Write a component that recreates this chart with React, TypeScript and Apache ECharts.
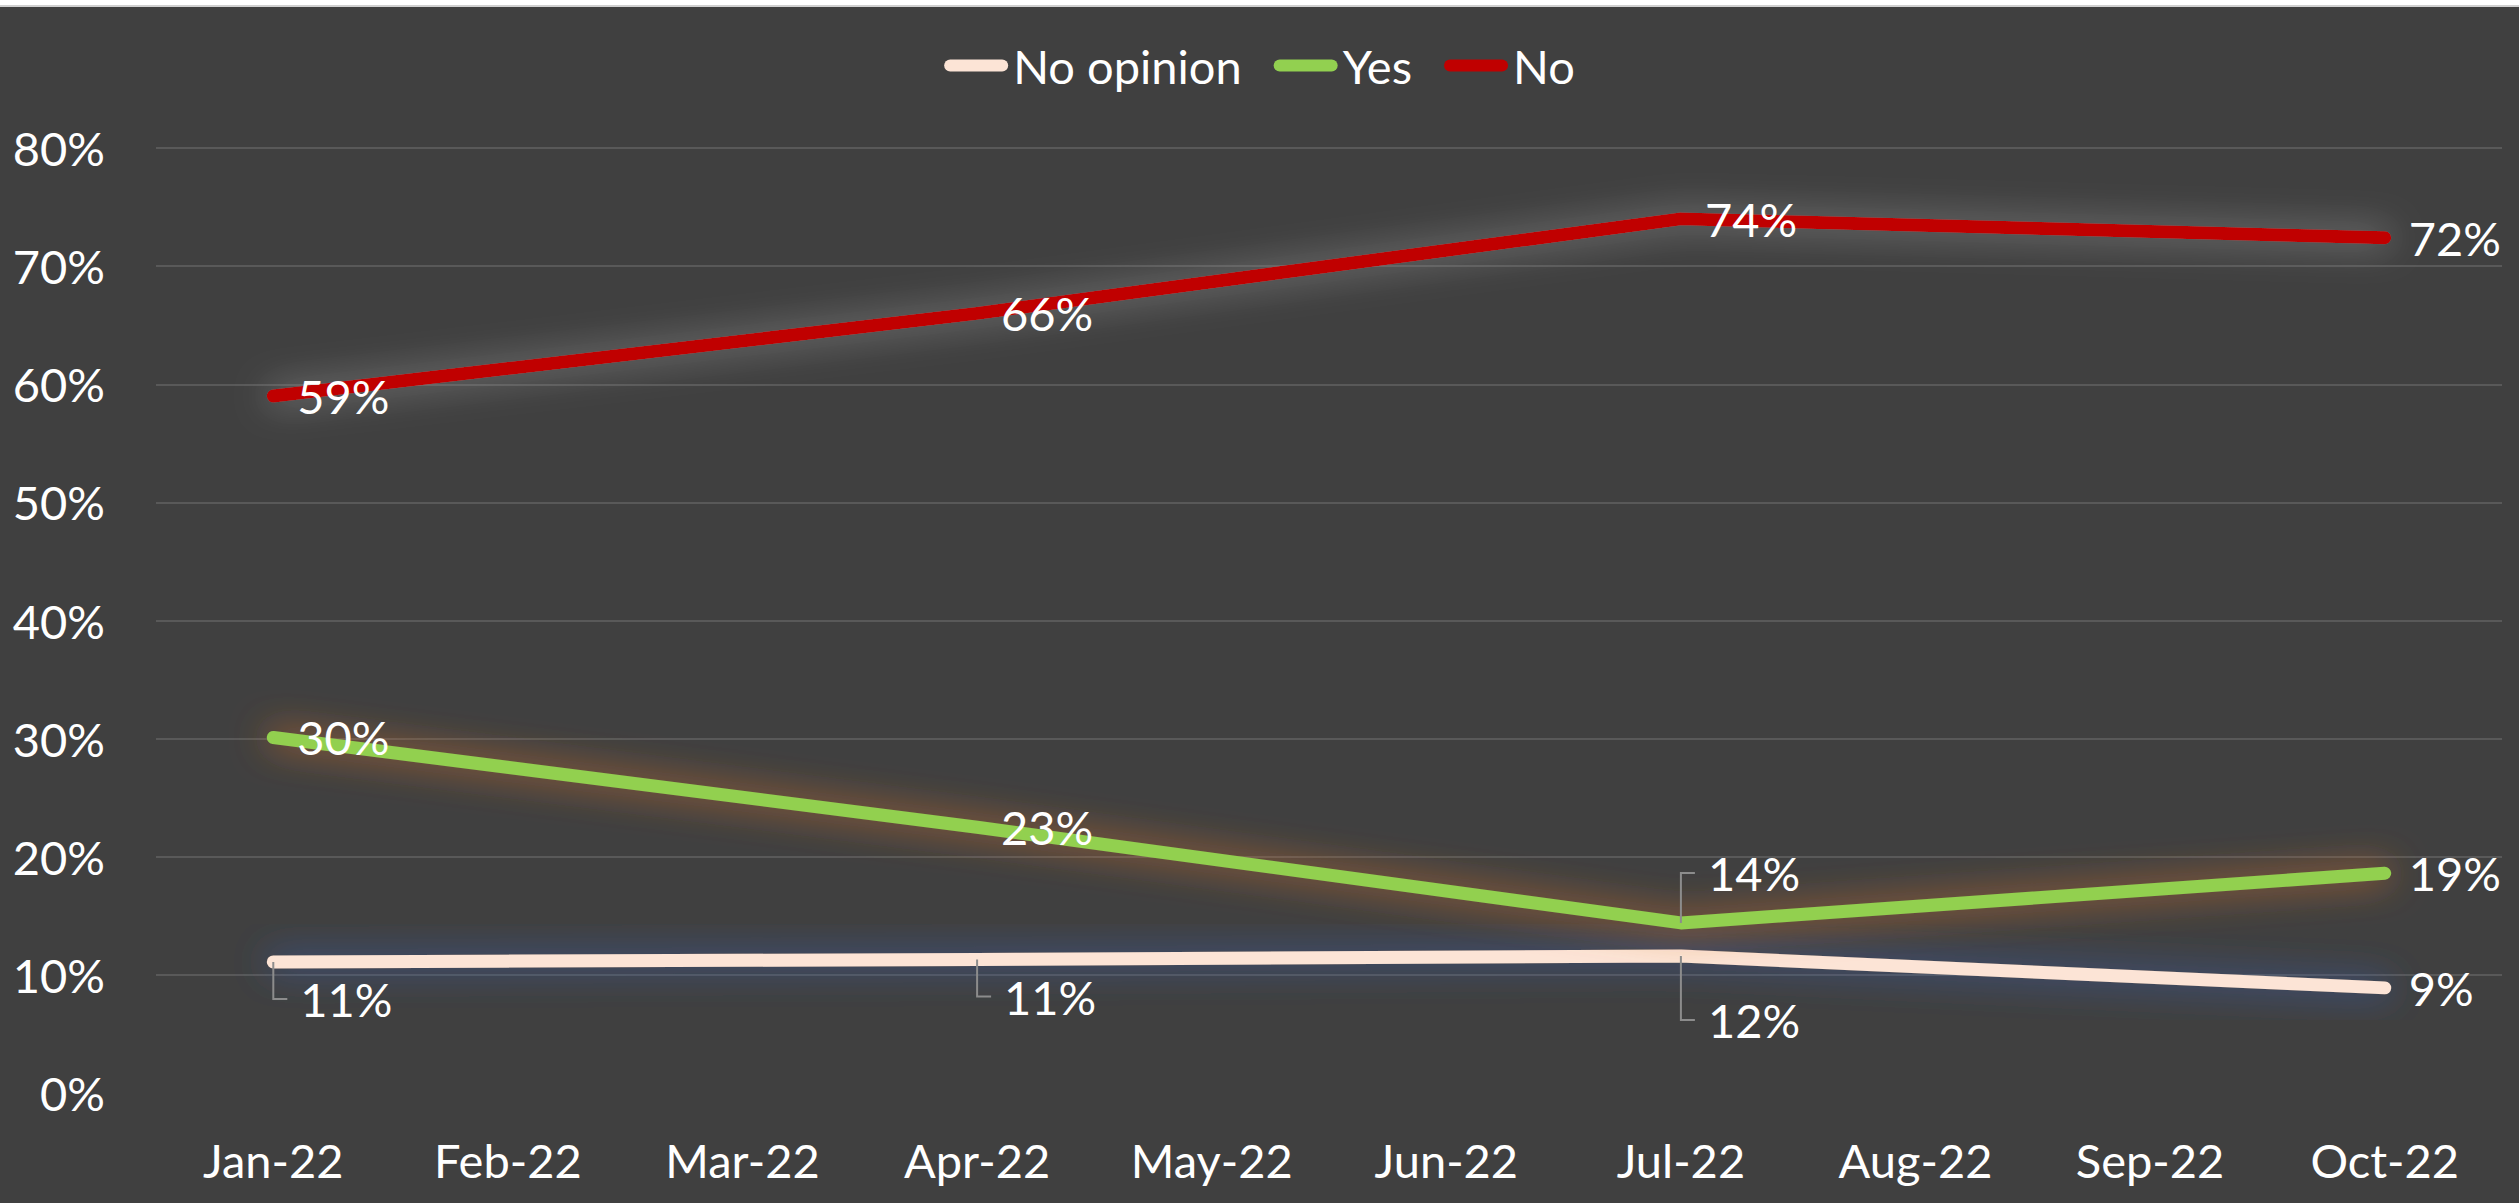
import React, { useEffect, useRef } from 'react';
import * as echarts from 'echarts';

const categories = ['Jan-22', 'Feb-22', 'Mar-22', 'Apr-22', 'May-22', 'Jun-22', 'Jul-22', 'Aug-22', 'Sep-22', 'Oct-22'];
const seriesNames = ['No opinion', 'Yes', 'No'];
const noOpinionValues = [0.111, null, null, 0.113, null, null, 0.116, null, null, 0.089];
const yesValues = [0.301, null, null, 0.225, null, null, 0.144, null, null, 0.186];
const noValues = [0.59, null, null, 0.66, null, null, 0.74, null, null, 0.724];

const seriesColors = ['#FCE4D6', '#92D050', '#C00000'];
const glowColors = ['rgba(58,90,160,1)', 'rgba(200,110,45,1)', 'rgba(150,150,150,0.9)'];

// labels that sit away from their point with an L-shaped leader line
const leaderLabels = [
  { s: 0, i: 0, dy: 37 },
  { s: 0, i: 3, dy: 37 },
  { s: 0, i: 6, dy: 64 },
  { s: 1, i: 6, dy: -50 },
];

const FONT = 'Lato, "Noto Sans", sans-serif';
const pct = (v: number) => Math.round(v * 100) + '%';

export default function App() {
  const ref = useRef<HTMLDivElement>(null);
  useEffect(() => {
    document.body.style.margin = '0';
    if (!ref.current) return;
    const chart = echarts.init(ref.current, null, { renderer: 'svg' });
    const allValues = [noOpinionValues, yesValues, noValues];
    const series = allValues.map((vals, s) => ({
      type: 'line',
      name: seriesNames[s],
      connectNulls: true,
      showAllSymbol: true,
      symbol: 'circle',
      symbolSize: 2,
      itemStyle: { color: seriesColors[s], borderWidth: 0 },
      lineStyle: {
        color: seriesColors[s],
        width: 13,
        cap: 'round',
        join: 'round',
        shadowBlur: 36,
        shadowColor: glowColors[s],
      },
      label: {
        show: true,
        position: 'right',
        distance: 23,
        color: '#ffffff',
        fontSize: 47,
        fontFamily: FONT,
        textBorderWidth: 0,
        formatter: (p: any) => pct(p.value as number),
      },
      data: vals.map((v, i) => {
        if (v == null) return '-';
        const leader = leaderLabels.find((l) => l.s === s && l.i === i);
        return leader ? { value: v, label: { offset: [3, leader.dy] } } : v;
      }),
    }));

    const option: any = {
      animation: false,
      backgroundColor: '#404040',
      textStyle: { fontFamily: FONT },
      legend: {
        show: true,
        top: 37,
        left: 'center',
        data: seriesNames,
        itemWidth: 64,
        itemHeight: 12,
        itemGap: 32,
        icon: 'path://M6,0H58A6,6,0,0,1,58,12H6A6,6,0,0,1,6,0Z',
        itemStyle: { borderWidth: 0, shadowBlur: 0 },
        textStyle: { color: '#ffffff', fontSize: 47, fontFamily: FONT },
      },
      grid: { left: 156, right: 17, top: 148, bottom: 110, containLabel: false },
      xAxis: {
        type: 'category',
        data: categories,
        boundaryGap: true,
        axisLine: { show: false },
        axisTick: { show: false },
        axisLabel: { color: '#ffffff', fontSize: 47, fontFamily: FONT, margin: 43, interval: 0 },
        splitLine: { show: false },
      },
      yAxis: {
        type: 'value',
        min: 0,
        max: 0.8,
        interval: 0.1,
        axisLine: { show: false },
        axisTick: { show: false },
        axisLabel: { color: '#ffffff', fontSize: 47, fontFamily: FONT, margin: 51, formatter: (v: number) => pct(v) },
        splitLine: {
          show: true,
          lineStyle: {
            width: 2,
            color: ['#404040', '#595959', '#595959', '#595959', '#595959', '#595959', '#595959', '#595959', '#595959'],
          },
        },
      },
      series,
    };
    chart.setOption(option);

    const elements: any[] = [
      { type: 'rect', shape: { x: 0, y: 0, width: 2519, height: 5 }, style: { fill: '#ffffff' }, z: 100 },
      { type: 'rect', shape: { x: 0, y: 5, width: 2519, height: 2 }, style: { fill: '#d0d0d0' }, z: 100 },
    ];
    leaderLabels.forEach((l) => {
      const v = allValues[l.s][l.i] as number;
      const p = chart.convertToPixel({ xAxisIndex: 0, yAxisIndex: 0 }, [l.i, v]) as number[];
      if (!p) return;
      elements.push({
        type: 'polyline',
        z: 10,
        shape: { points: [[p[0], p[1]], [p[0], p[1] + l.dy], [p[0] + 14, p[1] + l.dy]] },
        style: { stroke: '#8c8c8c', lineWidth: 2, fill: 'none' },
      });
    });
    chart.setOption({ graphic: { elements } });

    return () => chart.dispose();
  }, []);
  return <div ref={ref} style={{ width: 2519, height: 1203 }} />;
}
